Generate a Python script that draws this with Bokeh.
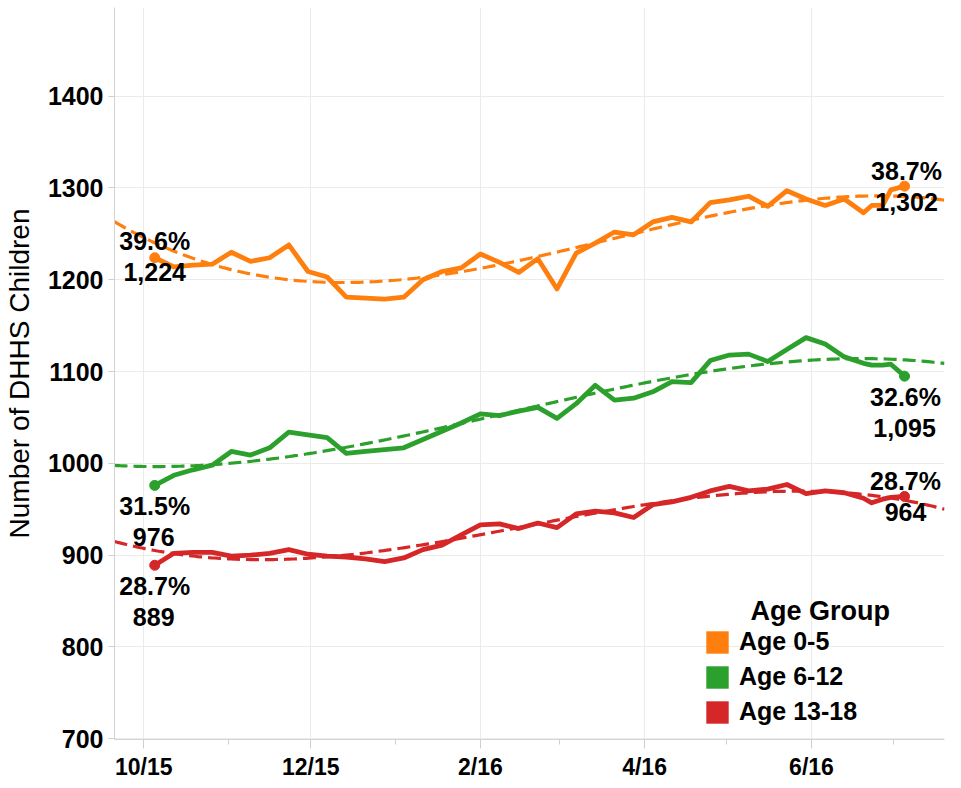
import numpy as np
import pandas as pd
from bokeh.plotting import figure
from bokeh.models import (ColumnDataSource, FixedTicker, Legend, LegendItem, Label, Range1d)
from bokeh.core.properties import value
from bokeh.embed import file_html
from bokeh.resources import INLINE

# ---------------- data ----------------
dates = [
    "2015-10-05", "2015-10-12", "2015-10-19", "2015-10-26", "2015-11-02", "2015-11-09",
    "2015-11-16", "2015-11-23", "2015-11-30", "2015-12-07", "2015-12-14", "2015-12-21",
    "2015-12-28", "2016-01-04", "2016-01-11", "2016-01-18", "2016-01-25", "2016-02-01",
    "2016-02-08", "2016-02-15", "2016-02-22", "2016-02-29", "2016-03-07", "2016-03-14",
    "2016-03-21", "2016-03-28", "2016-04-04", "2016-04-11", "2016-04-18", "2016-04-25",
    "2016-05-02", "2016-05-09", "2016-05-16", "2016-05-23", "2016-05-30", "2016-06-06",
    "2016-06-13", "2016-06-20", "2016-06-23", "2016-06-27", "2016-06-30", "2016-07-05",
]
age_0_5 = [1224, 1214, 1216, 1217, 1230, 1220, 1224, 1238, 1209, 1203, 1181, 1180,
           1179, 1181, 1200, 1209, 1213, 1228, 1219, 1208, 1223, 1190, 1229, 1240,
           1252, 1249, 1263, 1268, 1263, 1284, 1287, 1291, 1280, 1297, 1288, 1281,
           1288, 1273, 1281, 1281, 1298, 1302]
age_6_12 = [976, 987, 993, 998, 1013, 1009, 1017, 1034, 1031, 1028, 1011, 1013,
            1015, 1017, 1026, 1035, 1044, 1054, 1052, 1057, 1061, 1049, 1065, 1085,
            1069, 1071, 1078, 1089, 1088, 1112, 1118, 1119, 1111, 1124, 1137, 1130,
            1116, 1109, 1107, 1107, 1108, 1095]
age_13_18 = [889, 902, 903, 903, 899, 900, 902, 906, 901, 899, 898, 896,
             893, 897, 906, 911, 922, 933, 934, 929, 935, 930, 945, 948,
             946, 941, 955, 958, 963, 970, 975, 970, 972, 977, 967, 970,
             968, 962, 957, 961, 963, 964]
groups = ["Age 0-5", "Age 6-12", "Age 13-18"]
first_pct = ["39.6%", "31.5%", "28.7%"]
last_pct = ["38.7%", "32.6%", "28.7%"]
colors = ["#ff7f0e", "#2ca02c", "#d62728"]

y_ticks = [700, 800, 900, 1000, 1100, 1200, 1300, 1400]
x_tick_dates = ["2015-10-01", "2015-12-01", "2016-02-01", "2016-04-01", "2016-06-01"]
x_tick_labels = ["10/15", "12/15", "2/16", "4/16", "6/16"]
x_minor_dates = ["2015-11-01", "2016-01-01", "2016-03-01", "2016-05-01", "2016-07-01"]

# ---------------- helpers ----------------
origin = pd.Timestamp("2015-10-01")
def to_days(ds):
    return ((pd.to_datetime(ds) - origin) / pd.Timedelta(days=1)).to_numpy().astype(float)

xd = to_days(dates)
major_x = to_days(x_tick_dates)
minor_x = to_days(x_minor_dates)

X0, X1 = -10.7, 292.6
Y0, Y1 = 699.2, 1496.6

FONT = "Liberation Sans"

p = figure(frame_width=830, frame_height=732, output_backend="svg", toolbar_location=None,
           x_range=Range1d(X0, X1), y_range=Range1d(Y0, Y1),
           min_border_left=114, min_border_right=5, min_border_top=7, min_border_bottom=40)
p.outline_line_color = None
p.background_fill_color = "white"
p.border_fill_color = "white"

# axes
p.xaxis.ticker = FixedTicker(ticks=list(major_x), minor_ticks=list(minor_x))
p.xaxis.major_label_overrides = {float(t): lab for t, lab in zip(major_x, x_tick_labels)}
p.yaxis.ticker = FixedTicker(ticks=y_ticks)
for ax in (p.xaxis, p.yaxis):
    ax.axis_line_color = "#d4d4d4"
    ax.major_tick_line_color = "#cfcfcf"
    ax.minor_tick_line_color = "#cfcfcf"
    ax.major_tick_in = 0
    ax.minor_tick_in = 0
    ax.major_label_text_font = FONT
    ax.major_label_text_font_style = "bold"
    ax.major_label_text_color = "black"
p.xaxis.major_tick_out = 9
p.xaxis.minor_tick_out = 5
p.xaxis.major_label_text_font_size = "23px"
p.xaxis.major_label_standoff = 5
p.yaxis.major_tick_out = 6
p.yaxis.minor_tick_out = 0
p.yaxis.major_label_text_font_size = "25px"
p.yaxis.major_label_standoff = 5
p.yaxis.axis_label = "Number of DHHS Children"
p.yaxis.axis_label_text_font = FONT
p.yaxis.axis_label_text_font_style = "normal"
p.yaxis.axis_label_text_font_size = "28px"
p.yaxis.axis_label_text_color = "black"
p.yaxis.axis_label_standoff = 10

p.xgrid.grid_line_color = "#ebebeb"
p.ygrid.grid_line_color = "#ebebeb"
p.xgrid.grid_line_width = 1
p.ygrid.grid_line_width = 1

# series
series = [age_0_5, age_6_12, age_13_18]
xfit = np.linspace(X0, X1, 300)
label_offsets = [
    ((0, -17), (0, 14), (2, -15), (2, 16)),
    ((0, 21), (-1, 52), (1, 21), (0, 52)),
    ((0, 21), (-1, 52), (1, -15), (1, 16)),
]
legend_items = []
for vals, col, name, fp, lp, offs in zip(series, colors, groups, first_pct, last_pct, label_offsets):
    yv = np.array(vals, dtype=float)
    p.line(xd, yv, line_color=col, line_width=4.8, line_join="round")
    coef = np.polyfit(xd, yv, 3)
    p.line(xfit, np.polyval(coef, xfit), line_color=col, line_width=3.2, line_dash="13 6")
    p.scatter([xd[0], xd[-1]], [yv[0], yv[-1]], size=10, color=col)
    txt = ColumnDataSource(dict(
        x=[xd[0], xd[0], xd[-1], xd[-1]],
        y=[yv[0], yv[0], yv[-1], yv[-1]],
        t=[fp, f"{vals[0]:,}", lp, f"{vals[-1]:,}"],
        dx=[o[0] for o in offs],
        dy=[o[1] for o in offs],
    ))
    p.text(x="x", y="y", text="t", x_offset="dx", y_offset="dy", source=txt,
           text_align="center", text_baseline="middle", text_color="black",
           text_font=value(FONT), text_font_style="bold", text_font_size="25px")
    r = p.quad(left=[np.nan], right=[np.nan], top=[np.nan], bottom=[np.nan],
               fill_color=col, line_color=None)
    legend_items.append(LegendItem(label=name, renderers=[r]))

legend = Legend(items=legend_items, location=(589, 13), glyph_width=28, glyph_height=28,
                label_height=28, spacing=6, padding=0, margin=0, label_standoff=8,
                border_line_color=None, background_fill_alpha=0,
                label_text_font=FONT, label_text_font_style="bold",
                label_text_font_size="25px", label_text_color="black")
p.add_layout(legend)
p.add_layout(Label(x=636, y=129, x_units="screen", y_units="screen", text="Age Group",
                   text_align="left", text_baseline="middle", text_font=FONT,
                   text_font_style="bold", text_font_size="27px", text_color="black"))

open("out.html", "w").write(file_html(p, INLINE))
